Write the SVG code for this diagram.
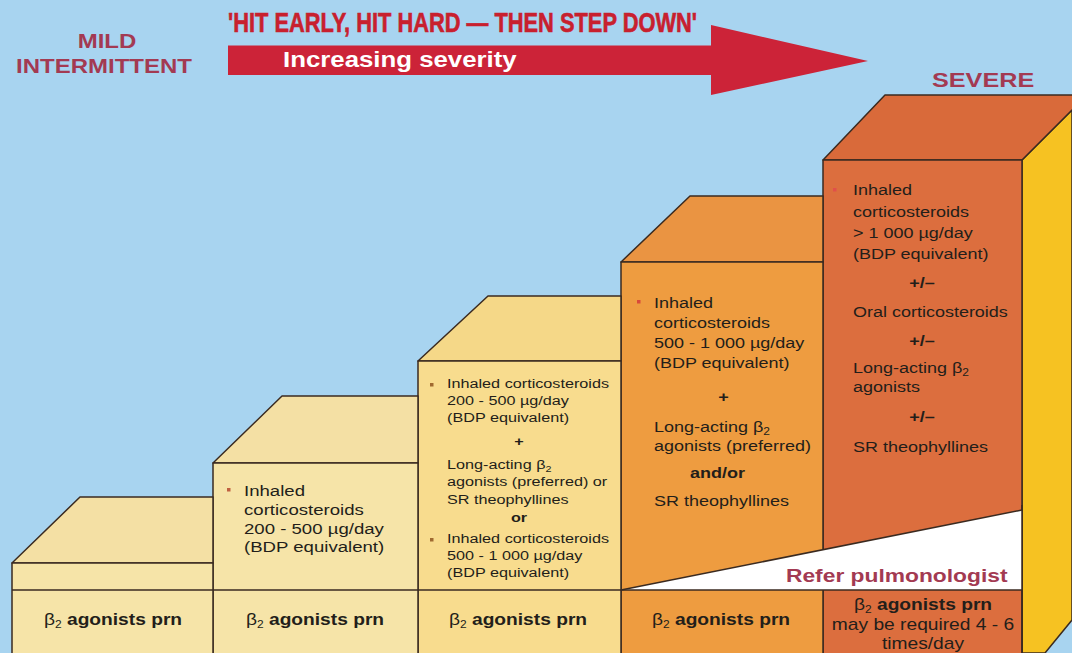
<svg xmlns="http://www.w3.org/2000/svg" width="1072" height="653" viewBox="0 0 1072 653">
<style>
.edge{stroke:#3a2a20;stroke-width:1.5;stroke-linejoin:round}
.t{font-family:"Liberation Sans",Arial,sans-serif;fill:#231e1a}
.b{font-weight:bold}
.hdr{font-family:"Liberation Sans",Arial,sans-serif;font-weight:bold;fill:#a33a52}
.bul{stroke:none}
.s1{fill:#f6e4a8}.s1t{fill:#f4e0a4}
.s3{fill:#f8dc8e}.s3t{fill:#f5d888}
.s4{fill:#ee9c40}.s4t{fill:#ea9442}
.s5{fill:#dc6e3e}.s5t{fill:#d96a3a}
</style>
<rect x="0" y="0" width="1072" height="653" fill="#a8d4f0"/>

<g id="header">
  <polygon points="228,45.5 711,45.5 711,25 868,61 711,95 711,75 228,75" fill="#cc2338"/>
  <text x="228" y="32" font-family="'Liberation Sans',Arial,sans-serif" font-weight="bold" font-size="27" fill="#c8202e" stroke="#c8202e" stroke-width="0.6" textLength="469" lengthAdjust="spacingAndGlyphs">'HIT EARLY, HIT HARD — THEN STEP DOWN'</text>
  <g transform="translate(283 67) scale(1.2 1)"><text x="0" y="0" class="hdr" font-size="21.5" style="fill:#ffffff">Increasing severity</text></g>
  <g transform="translate(107 48) scale(1.2 1)"><text x="0" y="0" class="hdr" font-size="20" text-anchor="middle">MILD</text></g>
  <g transform="translate(104 73) scale(1.2 1)"><text x="0" y="0" class="hdr" font-size="20" text-anchor="middle">INTERMITTENT</text></g>
  <g transform="translate(932 87) scale(1.2 1)"><text x="0" y="0" class="hdr" font-size="21">SEVERE</text></g>
</g>

<g id="step5">
  <polygon class="edge" points="1022,160 1072,110 1072,620 1045,653 1022,653" fill="#f6c222"/>
  <polygon class="edge s5t" points="823,160 885,95 1080,95 1080,102 1022,160"/>
  <rect class="edge s5" x="823" y="160" width="199" height="496"/>
  <rect class="bul" x="833" y="188" width="3.5" height="3.5" fill="#e0504a"/>
  <g transform="translate(853 0) scale(1.2 1)" font-size="15">
    <text class="t" x="0" y="195">Inhaled</text>
    <text class="t" x="0" y="217">corticosteroids</text>
    <text class="t" x="0" y="238">&gt; 1 000 µg/day</text>
    <text class="t" x="0" y="259">(BDP equivalent)</text>
    <text class="t b" x="57.5" y="288" text-anchor="middle">+/–</text>
    <text class="t" x="0" y="317">Oral corticosteroids</text>
    <text class="t b" x="57.5" y="346" text-anchor="middle">+/–</text>
    <text class="t" x="0" y="373">Long-acting β<tspan font-size="10" dy="3">2</tspan></text>
    <text class="t" x="0" y="392">agonists</text>
    <text class="t b" x="57.5" y="422" text-anchor="middle">+/–</text>
    <text class="t" x="0" y="452">SR theophyllines</text>
  </g>
</g>

<g id="step4">
  <polygon class="edge s4t" points="621,262 690,196 823,196 823,262"/>
  <rect class="edge s4" x="621" y="262" width="202" height="394"/>
  <rect class="bul" x="637" y="300" width="3.5" height="3.5" fill="#d84a3a"/>
  <g transform="translate(654 0) scale(1.2 1)" font-size="15">
    <text class="t" x="0" y="308">Inhaled</text>
    <text class="t" x="0" y="328">corticosteroids</text>
    <text class="t" x="0" y="348">500 - 1 000 µg/day</text>
    <text class="t" x="0" y="368">(BDP equivalent)</text>
    <text class="t b" x="58" y="402" text-anchor="middle">+</text>
    <text class="t" x="0" y="432">Long-acting β<tspan font-size="10" dy="3">2</tspan></text>
    <text class="t" x="0" y="451">agonists (preferred)</text>
    <text class="t b" x="53" y="478" text-anchor="middle">and/or</text>
    <text class="t" x="0" y="506">SR theophyllines</text>
  </g>
</g>

<g id="step3">
  <polygon class="edge s3t" points="418,361 488,296 621,296 621,361"/>
  <rect class="edge s3" x="418" y="361" width="203" height="295"/>
  <rect class="bul" x="430" y="383" width="3.5" height="3.5" fill="#a06a30"/>
  <rect class="bul" x="430" y="538" width="3.5" height="3.5" fill="#a06a30"/>
  <g transform="translate(447 0) scale(1.2 1)" font-size="13.5">
    <text class="t" x="0" y="388">Inhaled corticosteroids</text>
    <text class="t" x="0" y="405">200 - 500 µg/day</text>
    <text class="t" x="0" y="422">(BDP equivalent)</text>
    <text class="t b" x="60" y="446" text-anchor="middle">+</text>
    <text class="t" x="0" y="469">Long-acting β<tspan font-size="9" dy="3">2</tspan></text>
    <text class="t" x="0" y="486">agonists (preferred) or</text>
    <text class="t" x="0" y="504">SR theophyllines</text>
    <text class="t b" x="60" y="522" text-anchor="middle">or</text>
    <text class="t" x="0" y="543">Inhaled corticosteroids</text>
    <text class="t" x="0" y="560">500 - 1 000 µg/day</text>
    <text class="t" x="0" y="577">(BDP equivalent)</text>
  </g>
</g>

<g id="step2">
  <polygon class="edge s1t" points="213,463 282,396 418,396 418,463"/>
  <rect class="edge s1" x="213" y="463" width="205" height="193"/>
  <rect class="bul" x="227" y="488" width="3.5" height="3.5" fill="#c06040"/>
  <g transform="translate(244 0) scale(1.2 1)" font-size="15.5">
    <text class="t" x="0" y="496">Inhaled</text>
    <text class="t" x="0" y="515">corticosteroids</text>
    <text class="t" x="0" y="534">200 - 500 µg/day</text>
    <text class="t" x="0" y="552">(BDP equivalent)</text>
  </g>
</g>

<g id="step1">
  <polygon class="edge s1t" points="12,563 80,497 213,497 213,563"/>
  <rect class="edge s1" x="12" y="563" width="201" height="93"/>
</g>

<g id="refer">
  <polygon points="621,590 1022,510 1022,590" fill="#ffffff"/>
  <line class="edge" x1="621" y1="590" x2="1022" y2="510"/>
  <line class="edge" x1="1022" y1="505" x2="1022" y2="653"/>
  <g transform="translate(786 582) scale(1.2 1)"><text x="0" y="0" class="hdr" font-size="19">Refer pulmonologist</text></g>
</g>

<g id="bottom-row">
  <line class="edge" x1="12" y1="590" x2="1022" y2="590"/>
  <g transform="translate(113 625) scale(1.2 1)"><text class="t" x="0" y="0" font-size="16" text-anchor="middle">β<tspan font-size="10" dy="3">2</tspan><tspan class="b" dy="-3"> agonists prn</tspan></text></g>
  <g transform="translate(315 625) scale(1.2 1)"><text class="t" x="0" y="0" font-size="16" text-anchor="middle">β<tspan font-size="10" dy="3">2</tspan><tspan class="b" dy="-3"> agonists prn</tspan></text></g>
  <g transform="translate(518 625) scale(1.2 1)"><text class="t" x="0" y="0" font-size="16" text-anchor="middle">β<tspan font-size="10" dy="3">2</tspan><tspan class="b" dy="-3"> agonists prn</tspan></text></g>
  <g transform="translate(721 625) scale(1.2 1)"><text class="t" x="0" y="0" font-size="16" text-anchor="middle">β<tspan font-size="10" dy="3">2</tspan><tspan class="b" dy="-3"> agonists prn</tspan></text></g>
  <g transform="translate(923 0) scale(1.2 1)" font-size="16">
    <text class="t" x="0" y="610" text-anchor="middle">β<tspan font-size="10" dy="3">2</tspan><tspan class="b" dy="-3"> agonists prn</tspan></text>
    <text class="t" x="0" y="630" text-anchor="middle">may be required 4 - 6</text>
    <text class="t" x="0" y="649" text-anchor="middle">times/day</text>
  </g>
</g>
</svg>
